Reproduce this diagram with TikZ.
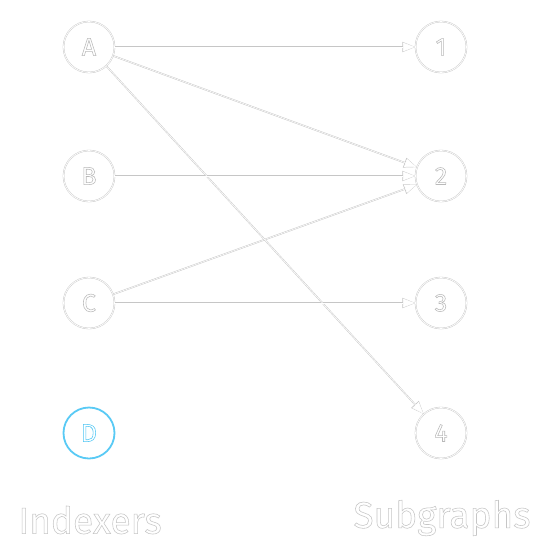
\documentclass[tikz,border=0pt]{standalone}
\usepackage{fontspec}
\setsansfont{Fira Sans}
\usetikzlibrary{arrows.meta}
\newcommand\outltxt[1]{\special{pdf:literal direct q 1 Tr 0.55 w}#1\special{pdf:literal direct Q}}
\begin{document}
\begin{tikzpicture}[x=1pt,y=1pt,
  vert/.style={circle, minimum size=51pt, inner sep=0pt, draw=gray!45, line width=0.4pt, double=white, double distance=0.7pt, text=gray!55, font=\sffamily\fontsize{25}{28}\selectfont},
  active/.style={circle, minimum size=51pt, inner sep=0pt, draw=cyan!65, line width=1.8pt, text=cyan!70, font=\sffamily\fontsize{25}{28}\selectfont},
  ttl/.style={text=gray!45, font=\sffamily\fontsize{37}{40}\selectfont},
  edgeout/.style={draw=gray!45, line width=1.5pt, -{Triangle[length=13pt,width=10pt]}},
  edgein/.style={draw=white, line width=0.6pt, shorten >=0.7pt, -{Triangle[length=11.5pt,width=8.6pt]}}
]
\useasboundingbox (0,0) rectangle (555,-555);
\fill[white] (0,0) rectangle (555,-555);
\node[vert] (A) at (89,-47) {\outltxt{A}};
\node[vert] (B) at (89,-176) {\outltxt{B}};
\node[vert] (C) at (89,-303) {\outltxt{C}};
\node[active] (D) at (89,-433) {\outltxt{D}};
\node[vert] (n1) at (441,-47) {\outltxt{1}};
\node[vert] (n2) at (441,-176) {\outltxt{2}};
\node[vert] (n3) at (441,-303) {\outltxt{3}};
\node[vert] (n4) at (441,-433) {\outltxt{4}};
\node[ttl] (L) at (90,-520) {\outltxt{Indexers}};
\node[ttl] (R) at (442,-518) {\outltxt{Subgraphs}};
\foreach \s/\t in {A/n1, A/n2, A/n4, B/n2, C/n2, C/n3} {
  \draw[edgeout] (\s) -- (\t);
}
\foreach \s/\t in {A/n1, A/n2, A/n4, B/n2, C/n2, C/n3} {
  \draw[edgein] (\s) -- (\t);
}
\end{tikzpicture}
\end{document}
